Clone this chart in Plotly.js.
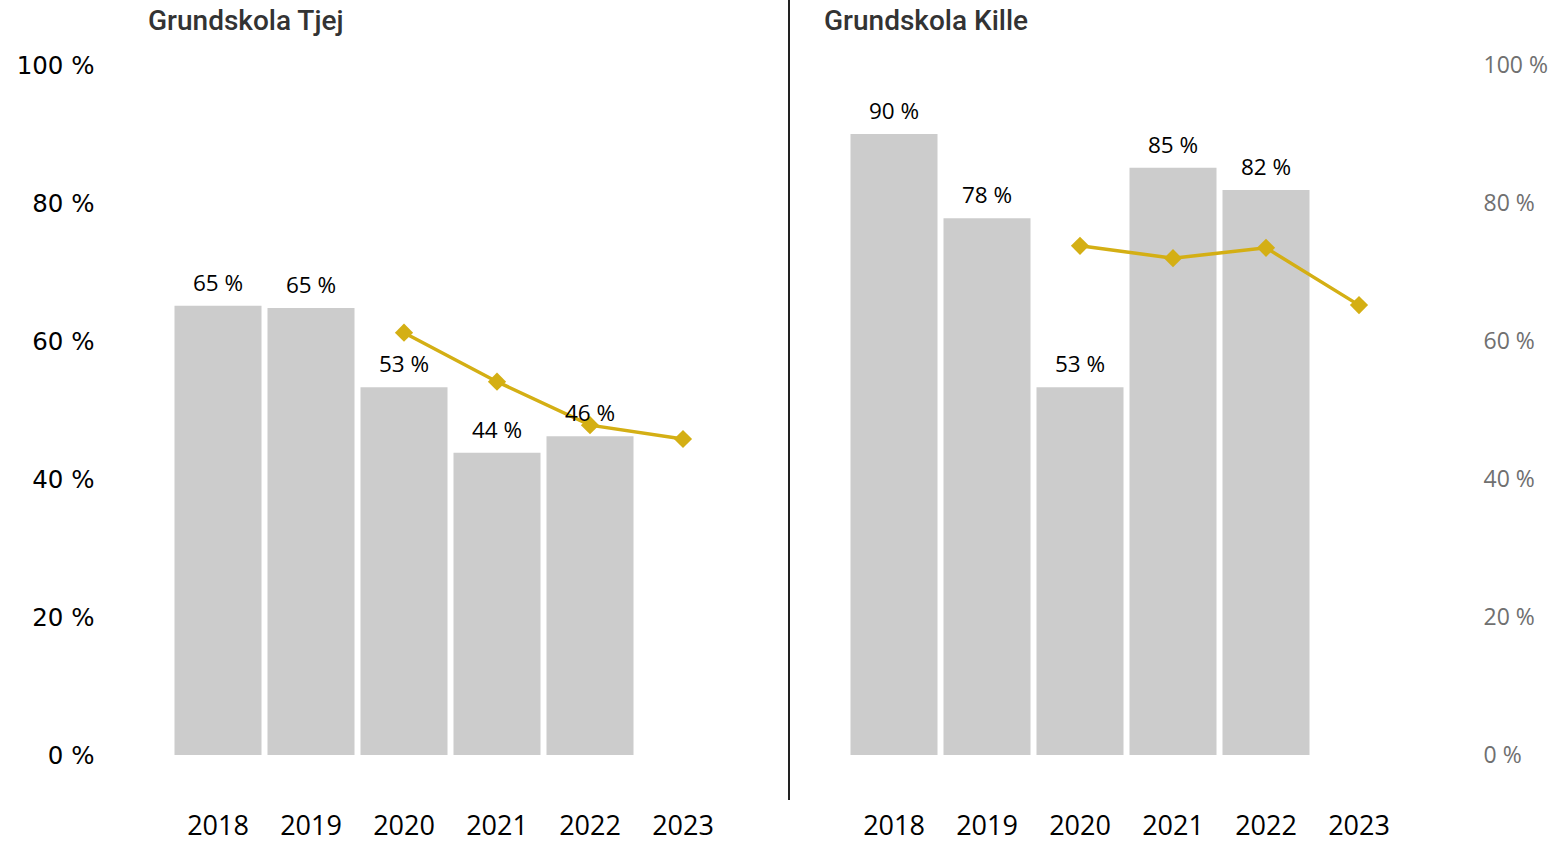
<!DOCTYPE html>
<html>
<head>
<meta charset="utf-8">
<script src="https://cdn.plot.ly/plotly-3.0.1.min.js"></script>
<style>html,body{margin:0;padding:0;background:#fff;}#chart{width:1553px;height:844px;}</style>
</head>
<body>
<div id="chart"></div>
<script>
const years = ['2018', '2019', '2020', '2021', '2022', '2023'];
const tjejBars = [65.1, 64.8, 53.3, 43.8, 46.2, null];
const tjejLine = [null, null, 61.2, 54.1, 47.8, 45.8];
const killeBars = [90.0, 77.8, 53.3, 85.1, 81.9, null];
const killeLine = [null, null, 73.8, 72.0, 73.5, 65.2];
const yTicks = [0, 20, 40, 60, 80, 100];
const yTickText = ['0 %', '20 %', '40 %', '60 %', '80 %', '100 %'];
const titles = ['Grundskola Tjej', 'Grundskola Kille'];

const W = 1553, H = 844;
const barColor = '#cccccc';
const lineColor = '#d4af14';
const labelFont = {family: 'Open Sans, Noto Sans, sans-serif', size: 22.5, color: '#000'};

function barTrace(vals, xa, ya) {
  return {type: 'bar', x: years, y: vals, xaxis: xa, yaxis: ya,
    marker: {color: barColor}, hoverinfo: 'skip', showlegend: false};
}
function lineTrace(vals, xa, ya) {
  return {type: 'scatter', mode: 'lines+markers', x: years, y: vals, xaxis: xa, yaxis: ya,
    line: {color: lineColor, width: 3.5}, marker: {symbol: 'diamond', size: 14, color: lineColor},
    connectgaps: false, showlegend: false, hoverinfo: 'skip'};
}

const data = [
  barTrace(tjejBars, 'x', 'y'),
  lineTrace(tjejLine, 'x', 'y'),
  barTrace(killeBars, 'x2', 'y2'),
  lineTrace(killeLine, 'x2', 'y2')
];

const annotations = [];
function addLabels(vals, xref, yref) {
  vals.forEach((v, i) => {
    if (v === null) return;
    annotations.push({x: i, y: v, xref: xref, yref: yref, text: Math.round(v) + ' %',
      showarrow: false, yanchor: 'bottom', xanchor: 'center', yshift: 6, font: labelFont});
  });
}
addLabels(tjejBars, 'x', 'y');
addLabels(killeBars, 'x2', 'y2');

const titleFont = {family: 'Roboto, sans-serif', size: 28, color: '#333333', weight: 500};
annotations.push({text: titles[0], xref: 'paper', yref: 'paper', x: 146 / W, y: 1 - 21 / H,
  xanchor: 'left', yanchor: 'middle', showarrow: false, font: titleFont});
annotations.push({text: titles[1], xref: 'paper', yref: 'paper', x: 822 / W, y: 1 - 21 / H,
  xanchor: 'left', yanchor: 'middle', showarrow: false, font: titleFont});

const yDomain = [(H - 755) / H, (H - 65) / H];
const xFont = {family: 'Open Sans, Noto Sans, sans-serif', size: 27, color: '#000'};

const layout = {
  width: W, height: H,
  margin: {l: 0, r: 0, t: 0, b: 0},
  paper_bgcolor: '#ffffff', plot_bgcolor: '#ffffff',
  bargap: 0.0645,
  showlegend: false,
  xaxis: {domain: [171.5 / W, 729.5 / W], type: 'category', range: [-0.5, 5.5],
    showgrid: false, zeroline: false, showline: false, ticks: '',
    tickfont: xFont, ticklabelstandoff: 52, anchor: 'y', fixedrange: true},
  yaxis: {domain: yDomain, range: [0, 100], tickvals: yTicks, ticktext: yTickText,
    showgrid: false, zeroline: false, showline: false, ticks: '',
    tickfont: {family: 'DejaVu Sans, sans-serif', size: 24.5, color: '#000'},
    ticklabelstandoff: 76, anchor: 'x', fixedrange: true},
  xaxis2: {domain: [847.5 / W, 1405.5 / W], type: 'category', range: [-0.5, 5.5],
    showgrid: false, zeroline: false, showline: false, ticks: '',
    tickfont: xFont, ticklabelstandoff: 52, anchor: 'y2', fixedrange: true},
  yaxis2: {domain: yDomain, range: [0, 100], tickvals: yTicks, ticktext: yTickText,
    side: 'right', showgrid: false, zeroline: false, showline: false, ticks: '',
    tickfont: {family: 'Open Sans, Noto Sans, sans-serif', size: 23, color: '#707070'},
    ticklabelstandoff: 77, anchor: 'x2', fixedrange: true},
  shapes: [{type: 'line', xref: 'paper', yref: 'paper', x0: 789 / W, x1: 789 / W,
    y0: (H - 800) / H, y1: 1, line: {color: '#222222', width: 2}}],
  annotations: annotations
};

Plotly.newPlot('chart', data, layout, {displayModeBar: false, staticPlot: true});
</script>
</body>
</html>
